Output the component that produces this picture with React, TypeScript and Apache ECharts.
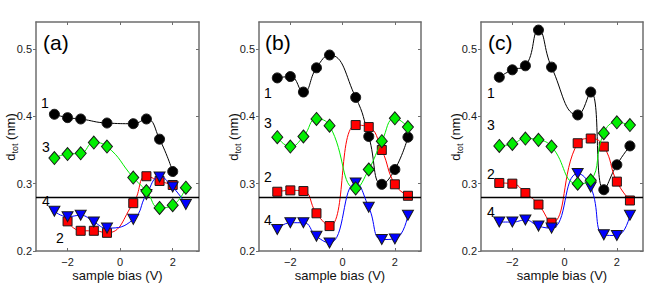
import React, { useEffect, useRef } from "react";
import * as echarts from "echarts";

// ---- data ----
const biasV = [-2.5, -2, -1.5, -1, -0.5, 0.5, 1, 1.5, 2, 2.5];
const panelNames = ["(a)", "(b)", "(c)"];
const xTicks = [-2, 0, 2];
const yTicks = [0.2, 0.3, 0.4, 0.5];
const refLine = 0.285;
const curveNames = ["1", "2", "3", "4"];
const yTitleParts = ["d", "tot", " (nm)"];
const xTitle = "sample bias (V)";

// panel (a)
const a1 = [0.403, 0.398, 0.396, null, 0.39, 0.389, 0.396, 0.366, 0.318, null];
const a2 = [null, 0.244, 0.23, 0.23, 0.227, 0.271, 0.311, 0.304, 0.298, null];
const a3 = [0.338, 0.344, 0.345, 0.361, 0.355, 0.309, 0.289, 0.264, 0.268, 0.294];
const a4 = [0.259, 0.251, 0.253, 0.243, 0.234, 0.247, 0.284, 0.31, 0.295, 0.269];
// panel (b)
const b1 = [0.457, 0.459, 0.436, 0.472, 0.491, 0.428, 0.37, 0.299, 0.321, 0.369];
const b2 = [0.288, 0.29, 0.289, 0.256, 0.237, 0.387, 0.384, 0.35, 0.299, 0.282];
const b3 = [0.369, 0.355, 0.37, 0.396, 0.386, 0.293, 0.321, 0.363, 0.397, 0.384];
const b4 = [0.232, 0.242, 0.242, 0.222, 0.212, 0.301, 0.265, 0.217, 0.218, 0.253];
// panel (c)
const c1 = [0.458, 0.469, 0.475, 0.528, 0.473, 0.402, 0.436, 0.291, 0.328, 0.356];
const c2 = [0.301, 0.3, 0.286, 0.269, 0.242, 0.36, 0.367, 0.355, 0.303, 0.275];
const c3 = [0.356, 0.359, 0.367, 0.365, 0.355, 0.3, 0.305, 0.375, 0.391, 0.387];
const c4 = [0.243, 0.243, 0.246, 0.237, 0.234, 0.315, 0.295, 0.224, 0.223, 0.253];

const panels = [
  [a1, a2, a3, a4],
  [b1, b2, b3, b4],
  [c1, c2, c3, c4],
];

// ---- layout / style ----
const FONT = "'Liberation Sans', Arial, Helvetica, sans-serif";
const gridLefts = [36, 259, 481];
const gridWidths = [163, 162, 162];
const GRID_TOP = 22;
const GRID_H = 229;
const FRAME = "#6e6e6e";
// label pixel positions per panel: [x, y] for curves 1,2,3,4
const curveLabelPos = [
  [[45, 103], [60, 238], [46, 147], [46, 201]],
  [[268, 93], [268, 177], [268, 123], [268, 220]],
  [[491, 93], [491, 174], [491, 125], [491, 212]],
];
const titlePos = [[43, 44], [265, 44], [488, 44]];

const seriesStyle = [
  { symbol: "circle", size: 10, fill: "#000000", line: "#000000", rotate: 0 },
  { symbol: "rect", size: 9, fill: "#ff0000", line: "#ff0000", rotate: 0 },
  { symbol: "diamond", size: [11, 13], fill: "#00ee00", line: "#00ee00", rotate: 0 },
  { symbol: "triangle", size: [11, 10], fill: "#0000ff", line: "#0000ff", rotate: 180 },
];
const drawOrder = [0, 1, 3, 2];

function pairs(vals: (number | null)[]) {
  const out: number[][] = [];
  vals.forEach((v, i) => {
    if (v !== null) out.push([biasV[i], v]);
  });
  return out;
}

function measure(text: string, size: number) {
  const c = document.createElement("canvas").getContext("2d");
  if (!c) return text.length * size * 0.55;
  c.font = `${size}px 'Liberation Sans', Arial, sans-serif`;
  return c.measureText(text).width;
}

export default function App() {
  const ref = useRef<HTMLDivElement>(null);
  useEffect(() => {
    if (!ref.current) return;
    const chart = echarts.init(ref.current, undefined, { renderer: "svg" });

    const grid: any[] = [];
    const xAxis: any[] = [];
    const yAxis: any[] = [];
    const series: any[] = [];
    const graphic: any[] = [];

    const MAIN = 13;
    const SUB = 9;
    const w0 = measure(yTitleParts[0], MAIN);
    const w1 = measure(yTitleParts[1], SUB);
    const w2 = measure(yTitleParts[2], MAIN);
    const wTot = w0 + w1 + w2;

    panels.forEach((panel, p) => {
      grid.push({
        left: gridLefts[p], top: GRID_TOP, width: gridWidths[p], height: GRID_H,
        outerBoundsMode: "none", containLabel: false,
      });
      const axLine = { show: true, onZero: false, lineStyle: { color: FRAME, width: 1.5 } };
      xAxis.push({
        gridIndex: p, type: "value", min: -3.2, max: 3, position: "bottom",
        axisLine: axLine,
        axisTick: { show: true, inside: true, length: 3, customValues: xTicks, lineStyle: { color: FRAME } },
        axisLabel: {
          show: true, customValues: xTicks, margin: 5, fontSize: 11, color: "#1a1a1a", fontFamily: FONT,
          formatter: (v: number) => (v < 0 ? "\u2212" + Math.abs(v) : String(v)),
        },
        splitLine: { show: false },
        name: xTitle, nameLocation: "middle", nameGap: 17, nameMoveOverlap: false,
        nameTextStyle: { fontSize: 13, color: "#111", fontFamily: FONT, verticalAlign: "top", lineHeight: 14 },
      });
      xAxis.push({
        gridIndex: p, type: "value", min: -3.2, max: 3, position: "top",
        axisLine: axLine,
        axisTick: { show: true, inside: true, length: 3, customValues: xTicks, lineStyle: { color: FRAME } },
        axisLabel: { show: false }, splitLine: { show: false },
      });
      yAxis.push({
        gridIndex: p, type: "value", min: 0.2, max: 0.54, position: "left",
        axisLine: axLine,
        axisTick: { show: true, inside: false, length: 3, customValues: yTicks, lineStyle: { color: FRAME } },
        axisLabel: {
          show: true, customValues: yTicks, margin: 4, fontSize: 11, color: "#1a1a1a", fontFamily: FONT,
          formatter: (v: number) => v.toFixed(1),
        },
        splitLine: { show: false },
      });
      yAxis.push({
        gridIndex: p, type: "value", min: 0.2, max: 0.54, position: "right",
        axisLine: axLine,
        axisTick: { show: true, inside: true, length: 3, customValues: yTicks, lineStyle: { color: FRAME } },
        axisLabel: { show: false }, splitLine: { show: false },
      });

      drawOrder.forEach((k, j) => {
        const st = seriesStyle[k];
        const s: any = {
          type: "line",
          name: panelNames[p] + " " + curveNames[k],
          xAxisIndex: 2 * p, yAxisIndex: 2 * p,
          data: pairs(panel[k]),
          smooth: 0.5,
          symbol: st.symbol, symbolSize: st.size, symbolRotate: st.rotate,
          showAllSymbol: true,
          lineStyle: { color: st.line, width: 1 },
          itemStyle: { color: st.fill, borderColor: "#1a1a1a", borderWidth: 1 },
          z: 3 + j,
        };
        if (j === 0) {
          s.markLine = {
            silent: true, symbol: "none", label: { show: false },
            lineStyle: { color: "#000", width: 1.3, type: "solid" },
            data: [{ yAxis: refLine }],
          };
        }
        series.push(s);
      });

      // y-axis title with subscript, rotated
      const base = -wTot / 2;
      graphic.push({
        type: "group",
        x: gridLefts[p] - 26,
        y: 137,
        rotation: Math.PI / 2,
        children: [
          {
            type: "text", x: base, y: 0,
            style: { text: yTitleParts[0], fontSize: MAIN, fontFamily: FONT, fill: "#111", align: "left", verticalAlign: "middle" },
          },
          {
            type: "text", x: base + w0, y: 4.5,
            style: { text: yTitleParts[1], fontSize: SUB, fontFamily: FONT, fill: "#111", align: "left", verticalAlign: "middle" },
          },
          {
            type: "text", x: base + w0 + w1, y: 0,
            style: { text: yTitleParts[2], fontSize: MAIN, fontFamily: FONT, fill: "#111", align: "left", verticalAlign: "middle" },
          },
        ],
      });

      graphic.push({
        type: "text", left: titlePos[p][0], top: titlePos[p][1] - 12,
        style: { text: panelNames[p], fontSize: 21, fontFamily: FONT, fill: "#000" },
      });
      curveNames.forEach((nm, k) => {
        graphic.push({
          type: "text", x: curveLabelPos[p][k][0], y: curveLabelPos[p][k][1],
          style: { text: nm, fontSize: 14, fontFamily: FONT, fill: "#000", align: "center", verticalAlign: "middle" },
        });
      });
    });

    chart.setOption({
      animation: false,
      backgroundColor: "#ffffff",
      grid, xAxis, yAxis, series, graphic,
    });
    return () => chart.dispose();
  }, []);
  return <div ref={ref} style={{ position: "fixed", left: 0, top: 0, width: 664, height: 283 }} />;
}
